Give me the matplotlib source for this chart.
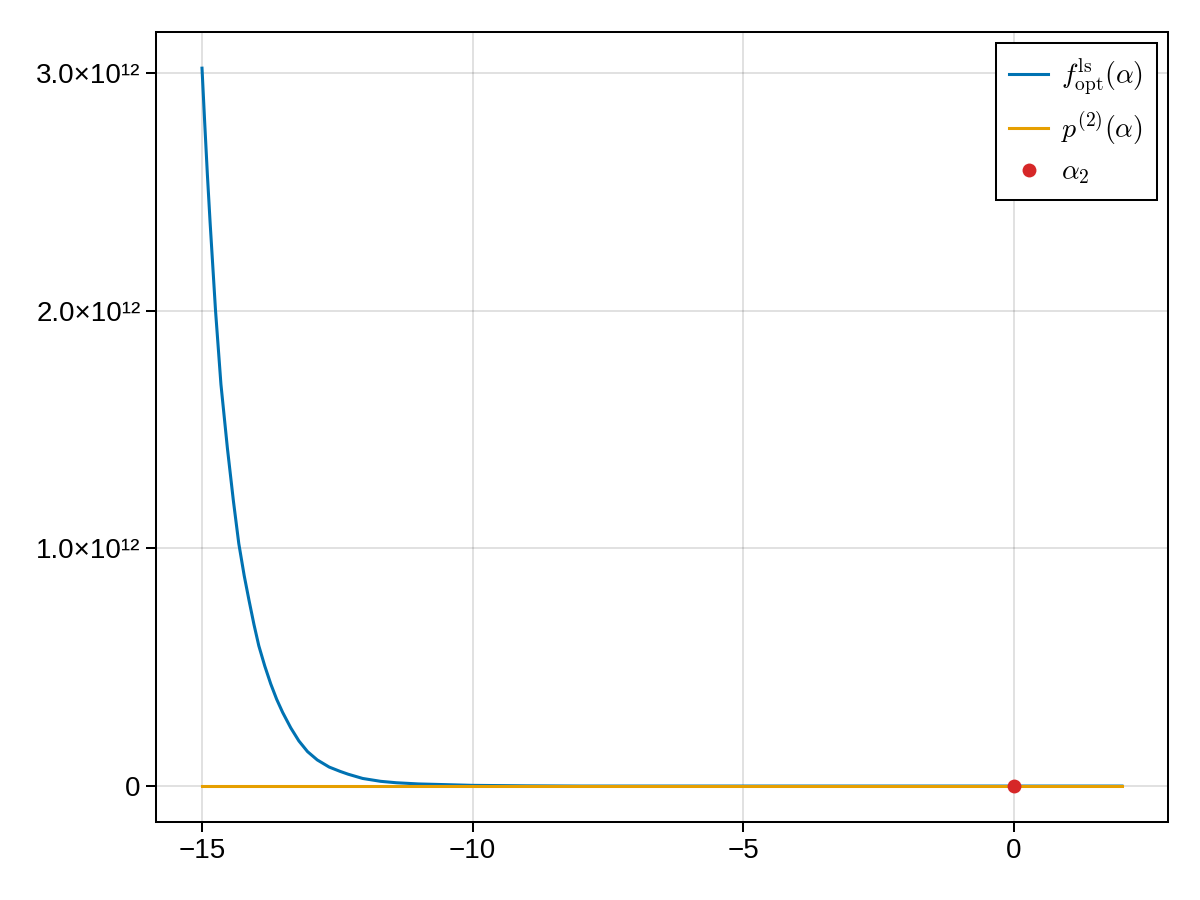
import matplotlib
matplotlib.use("Agg")
import matplotlib.pyplot as plt
from matplotlib.ticker import FixedLocator, FixedFormatter

# values (y in units of 1e12)
alpha_f = [-15.0, -14.95, -14.9, -14.85, -14.75, -14.65, -14.53, -14.42, -14.32,
           -14.22, -14.13, -14.04, -13.95, -13.84, -13.73, -13.62, -13.51, -13.36,
           -13.21, -13.05, -12.87, -12.65, -12.45, -12.3, -12.03, -11.7, -11.41,
           -11.0, -10.5, -10.0, -9.5, -9.0, -8.0, -5.0, -2.0, 0.0, 2.0]
f_opt = [3.02, 2.79, 2.57, 2.37, 2.0, 1.69, 1.42, 1.2, 1.02,
         0.885, 0.78, 0.68, 0.59, 0.505, 0.43, 0.365, 0.31, 0.245,
         0.19, 0.145, 0.11, 0.08, 0.062, 0.05, 0.032, 0.02, 0.014,
         0.009, 0.006, 0.003, 0.002, 0.001, 0.0, 0.0, 0.0, 0.0, 0.0]
alpha_p = [-15.0, 2.0]
p2 = [0.0, 0.0]
alpha2_x = [0.0]
alpha2_y = [0.0]

yticks = [0.0, 1.0e12, 2.0e12, 3.0e12]
ytick_labels = ["0", "1.0×10¹²", "2.0×10¹²", "3.0×10¹²"]
xticks = [-15, -10, -5, 0]

plt.rcParams["font.family"] = ["Liberation Sans", "DejaVu Sans"]
plt.rcParams["mathtext.fontset"] = "cm"

fig = plt.figure(figsize=(12, 9), dpi=100)
ax = fig.add_axes([0.13, 0.0867, 0.8433, 0.8777])

scale = 1e12
ax.plot(alpha_f, [v * scale for v in f_opt], color="#0072B2", lw=2.2,
        label=r"$f^{\mathrm{ls}}_{\mathrm{opt}}(\alpha)$", zorder=3)
ax.plot(alpha_p, p2, color="#E69F00", lw=2.2,
        label=r"$p^{(2)}(\alpha)$", zorder=4)
ax.plot(alpha2_x, alpha2_y, "o", color="#d62728", ms=10, mec="none",
        label=r"$\alpha_2$", zorder=5)

ax.set_xlim(-15.85, 2.85)
ax.set_ylim(-0.151e12, 3.172e12)
ax.xaxis.set_major_locator(FixedLocator(xticks))
ax.yaxis.set_major_locator(FixedLocator(yticks))
ax.yaxis.set_major_formatter(FixedFormatter(ytick_labels))

ax.grid(True, color="black", alpha=0.12, lw=1.4)
ax.set_axisbelow(True)
for s in ax.spines.values():
    s.set_linewidth(1.45)
ax.tick_params(direction="out", length=7.2, width=1.45, labelsize=20, pad=4)

leg = ax.legend(loc="upper right", fontsize=20, handlelength=1.4,
                labelspacing=0.45, borderaxespad=0.4, borderpad=0.5,
                handletextpad=0.45, fancybox=False, framealpha=1,
                edgecolor="black")
leg.get_frame().set_linewidth(1.45)

fig.savefig("out.png", dpi=100)
